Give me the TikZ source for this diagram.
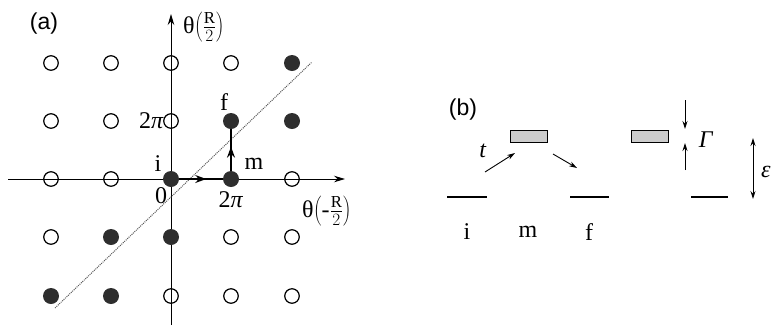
\documentclass[tikz,border=0pt]{standalone}
\usepackage{fontspec}
\setmainfont{Liberation Serif}
\newfontfamily\sansf{Liberation Sans}
\usetikzlibrary{arrows.meta,decorations.markings}
\begin{document}
\begin{tikzpicture}[x=1pt,y=-1pt,
  opendot/.style={circle,draw,line width=1.2pt,minimum size=14.5pt,inner sep=0pt},
  filldot/.style={circle,fill=black!82,minimum size=16pt,inner sep=0pt},
  lbl/.style={font=\fontsize{24}{26}\selectfont,inner sep=0pt},
  panel/.style={font=\sansf\fontsize{23}{25}\selectfont,inner sep=0pt},
  axis/.style={line width=0.9pt,-{Stealth[length=11pt,width=6.5pt]}},
  level/.style={line width=1.7pt},
  tarrow/.style={line width=0.9pt,-{Stealth[length=8pt,width=5pt]}},
  box/.style={draw,line width=0.9pt,fill=black!20,minimum width=37pt,minimum height=12pt,inner sep=0pt},
  midarrow/.style={postaction={decorate},decoration={markings,
     mark=at position #1 with {\arrow{Stealth[length=11pt,width=8pt]}}}}
]
\useasboundingbox (0,0) rectangle (773,325);
% axes
\coordinate (xs) at (8,179);
\coordinate (xe) at (345,179);
\coordinate (ys) at (171,325);
\coordinate (ye) at (171,14);
\draw[axis] (xs) -- (xe);
\draw[axis] (ys) -- (ye);
% dotted diagonal
\coordinate (ds) at (55,308);
\coordinate (de) at (312,62);
\draw[densely dotted,line width=1pt,black!65] (ds) -- (de);
% open dots
\foreach \n/\x/\y in {a/51/63,b/111/63,c/171/63,d/231/63,
                      e/51/121,g/111/121,h/171/121,
                      k/51/179,l/111/179,n/292/179,
                      o/51/237,p/231/237,q/292/237,
                      r/171/296,s/231/296,u/292/296}
  \node[opendot] (o\n) at (\x,\y) {};
% filled dots
\foreach \n/\x/\y in {a/292/63,b/292/121,c/111/237,d/171/237,e/51/296,g/111/296}
  \node[filldot] (f\n) at (\x,\y) {};
\node[filldot] (i) at (171,179) {};
\node[filldot] (m) at (231,179) {};
\node[filldot] (f) at (231,121) {};
% transitions
\draw[line width=1.3pt,midarrow=0.62] (i) -- (m);
\draw[line width=1.3pt,midarrow=0.58] (m) -- (f);
% labels (a)
\node[panel] (pa) at (44,24) {(a)};
\node[lbl,anchor=west] (ty) at (183,27) {θ$\left(\frac{\mathrm{R}}{2}\right)$};
\node[lbl,anchor=west] (tx) at (302,211) {θ$\left(\mbox{-}\frac{\mathrm{R}}{2}\right)$};
\node[lbl,anchor=east] (tp) at (164,121) {2\textit{π}};
\node[lbl] (li) at (158,164) {i};
\node[lbl] (l0) at (161,196) {0};
\node[lbl] (lf) at (224,102) {f};
\node[lbl] (lm) at (254,164) {m};
\node[lbl] (l2p) at (231,200) {2\textit{π}};
% panel (b)
\node[panel] (pb) at (463,110) {(b)};
\node[box] (b1) at (528.5,136) {};
\node[box] (b2) at (649.5,136) {};
\coordinate (l1a) at (447,197); \coordinate (l1b) at (487,197);
\coordinate (l2a) at (570,197); \coordinate (l2b) at (609,197);
\coordinate (l3a) at (691,197); \coordinate (l3b) at (728,197);
\draw[level] (l1a) -- (l1b);
\draw[level] (l2a) -- (l2b);
\draw[level] (l3a) -- (l3b);
\coordinate (t1) at (485,172); \coordinate (t2) at (515,153);
\draw[tarrow] (t1) -- (t2);
\coordinate (u1) at (553,154); \coordinate (u2) at (577,168);
\draw[tarrow] (u1) -- (u2);
\node[lbl] (lt) at (483,151) {\textit{t}};
\coordinate (g1) at (685,100); \coordinate (g2) at (685,129);
\coordinate (g3) at (685,170); \coordinate (g4) at (685,143);
\draw[tarrow] (g1) -- (g2);
\draw[tarrow] (g3) -- (g4);
\node[lbl] (lg) at (706,140) {\textit{Γ}};
\coordinate (e1) at (753,138); \coordinate (e2) at (753,199);
\draw[line width=0.9pt,{Stealth[length=8pt,width=5pt]}-{Stealth[length=8pt,width=5pt]}] (e1) -- (e2);
\node[lbl,anchor=west] (le) at (761,172) {\textit{ε}};
\node[lbl] (bi) at (467,232) {i};
\node[lbl] (bm) at (528,232) {m};
\node[lbl] (bf) at (589,232) {f};
\end{tikzpicture}
\end{document}
